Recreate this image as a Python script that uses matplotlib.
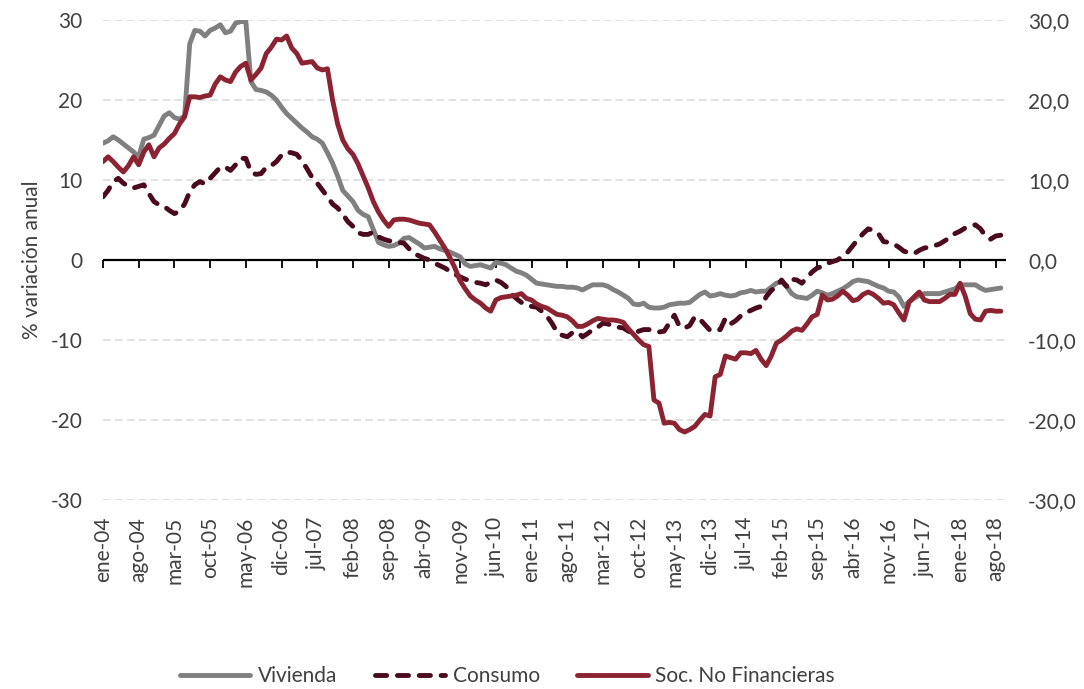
import matplotlib
matplotlib.use("Agg")
import matplotlib.pyplot as plt

plt.rcParams['font.family'] = ['Lato', 'DejaVu Sans']
plt.rcParams['axes.unicode_minus'] = False

## data: monthly, ene-04 .. sep-18
vivienda = [
    14.6, 14.9, 15.4, 15.0, 14.5, 14.0, 13.5, 12.9, 15.1, 15.3, 15.6, 16.8,
    18.0, 18.4, 17.8, 17.6, 18.0, 27.0, 28.7, 28.6, 28.0, 28.7, 29.0, 29.4,
    28.4, 28.6, 29.6, 29.8, 29.8, 22.3, 21.3, 21.2, 21.0, 20.6, 20.0, 19.1,
    18.3, 17.7, 17.1, 16.5, 16.0, 15.4, 15.1, 14.6, 13.4, 12.1, 10.5, 8.7,
    8.0, 7.3, 6.2, 5.7, 5.4, 3.8, 2.2, 1.9, 1.7, 1.8, 2.1, 2.7,
    2.8, 2.4, 2.0, 1.5, 1.6, 1.7, 1.4, 1.2, 1.0, 0.7, 0.4, -0.5,
    -0.8, -0.7, -0.6, -0.8, -1.0, -0.3, -0.4, -0.6, -1.0, -1.4, -1.6, -1.9,
    -2.4, -2.9, -3.0, -3.1, -3.2, -3.3, -3.3, -3.4, -3.4, -3.5, -3.75, -3.4,
    -3.1, -3.1, -3.1, -3.3, -3.7, -4.0, -4.4, -4.8, -5.5, -5.6, -5.4, -5.9,
    -6.0, -6.0, -5.9, -5.6, -5.5, -5.4, -5.4, -5.3, -4.8, -4.3, -4.0, -4.5,
    -4.4, -4.2, -4.4, -4.5, -4.4, -4.1, -4.0, -3.8, -4.0, -3.9, -3.9, -3.4,
    -2.9, -2.7, -3.3, -4.2, -4.6, -4.7, -4.8, -4.4, -3.9, -4.1, -4.4, -4.2,
    -3.9, -3.6, -3.2, -2.7, -2.5, -2.6, -2.7, -3.0, -3.3, -3.5, -3.9, -4.0,
    -4.6, -5.8, -5.2, -4.8, -4.4, -4.2, -4.2, -4.2, -4.2, -4.0, -3.8, -3.6,
    -3.1, -3.1, -3.1, -3.1, -3.5, -3.8, -3.7, -3.6, -3.5,
]
consumo = [
    7.9, 8.7, 9.8, 10.2, 9.6, 9.2, 9.0, 9.2, 9.4, 8.3, 7.3, 6.9,
    6.7, 6.2, 5.8, 6.1, 7.0, 8.5, 9.4, 9.8, 9.5, 10.2, 10.9, 11.6,
    11.6, 11.2, 11.9, 12.7, 12.7, 11.0, 10.7, 10.8, 11.6, 11.8, 12.3, 13.1,
    13.5, 13.4, 13.2, 12.4, 11.4, 10.3, 9.6, 8.75, 7.9, 7.0, 6.5, 5.7,
    4.8, 4.2, 3.4, 3.2, 3.2, 3.5, 2.9, 2.6, 2.4, 2.3, 2.2, 2.1,
    1.4, 0.8, 0.5, 0.2, 0.0, -0.4, -0.7, -1.0, -1.4, -1.8, -2.1, -2.4,
    -2.6, -2.8, -2.9, -3.1, -2.8, -2.5, -2.8, -3.3, -4.2, -4.8, -5.3, -5.5,
    -5.8, -5.9, -6.4, -7.0, -7.9, -9.0, -9.4, -9.6, -9.1, -9.0, -9.6, -9.2,
    -8.7, -8.4, -7.9, -8.0, -8.3, -8.4, -8.5, -8.9, -9.3, -8.9, -8.7, -8.7,
    -8.8, -9.0, -8.9, -7.9, -6.9, -8.3, -8.5, -8.2, -7.1, -7.4, -8.1, -8.8,
    -8.8, -8.7, -7.3, -8.0, -7.6, -7.0, -6.6, -6.3, -6.0, -5.8, -4.6, -3.8,
    -3.4, -2.5, -3.3, -2.4, -2.5, -2.9, -2.2, -1.5, -1.0, -0.8, -0.4, -0.2,
    0.0, 0.5, 1.0, 1.8, 2.6, 3.3, 3.9, 3.7, 3.3, 2.3, 2.2, 2.0,
    1.6, 1.1, 0.9, 0.8, 1.2, 1.5, 1.6, 1.8, 2.0, 2.4, 2.8, 3.3,
    3.6, 4.0, 4.2, 4.4, 3.9, 3.0, 2.6, 3.0, 3.1,
]
soc_no_fin = [
    12.3, 12.9, 12.3, 11.6, 11.0, 11.8, 12.9, 11.9, 13.5, 14.4, 12.9, 14.0,
    14.5, 15.2, 15.8, 17.0, 17.9, 20.4, 20.4, 20.3, 20.5, 20.6, 22.0, 22.9,
    22.5, 22.3, 23.5, 24.2, 24.6, 22.5, 23.2, 24.0, 25.8, 26.6, 27.6, 27.5,
    28.0, 26.5, 25.8, 24.6, 24.7, 24.8, 24.0, 23.75, 23.9, 20.0, 17.0, 15.0,
    13.9, 13.2, 12.0, 10.5, 9.0, 7.3, 6.0, 5.0, 4.2, 5.0, 5.1, 5.1,
    5.0, 4.8, 4.6, 4.5, 4.4, 3.5, 2.5, 1.5, 0.3, -1.0, -2.6, -3.6,
    -4.5, -5.0, -5.4, -6.0, -6.4, -5.0, -4.7, -4.6, -4.5, -4.4, -4.2, -4.8,
    -5.0, -5.5, -5.8, -6.0, -6.4, -6.8, -6.9, -7.1, -7.6, -8.3, -8.3, -8.0,
    -7.6, -7.3, -7.4, -7.5, -7.5, -7.6, -7.8, -8.6, -9.3, -10.0, -10.6, -10.8,
    -17.5, -17.9, -20.4, -20.3, -20.4, -21.2, -21.5, -21.2, -20.8, -20.0, -19.3, -19.5,
    -14.6, -14.3, -12.0, -12.2, -12.4, -11.6, -11.6, -11.7, -11.3, -12.4, -13.2, -12.0,
    -10.4, -10.0, -9.5, -8.9, -8.6, -8.8, -8.0, -7.1, -6.8, -4.4, -5.0, -4.9,
    -4.5, -3.9, -4.4, -5.1, -4.9, -4.3, -4.0, -4.3, -4.8, -5.4, -5.3, -5.6,
    -6.6, -7.5, -5.3, -4.6, -4.0, -5.0, -5.2, -5.2, -5.2, -4.8, -4.3, -4.3,
    -2.9, -4.5, -6.7, -7.4, -7.5, -6.4, -6.3, -6.4, -6.4,
]
tick_labels = ['ene-04', 'ago-04', 'mar-05', 'oct-05', 'may-06', 'dic-06',
               'jul-07', 'feb-08', 'sep-08', 'abr-09', 'nov-09', 'jun-10',
               'ene-11', 'ago-11', 'mar-12', 'oct-12', 'may-13', 'dic-13',
               'jul-14', 'feb-15', 'sep-15', 'abr-16', 'nov-16', 'jun-17',
               'ene-18', 'ago-18']
tick_step = 7  # months between labels

txt = '#404040'
fs = 15
lw = 3.5

fig = plt.figure(figsize=(10.84, 6.89), dpi=100)
ax = fig.add_axes([0.095, 0.2743, 0.833, 0.6967])

x = list(range(len(vivienda)))
ax.plot(x, vivienda, color='#808080', lw=lw, label='Vivienda',
        solid_joinstyle='round', solid_capstyle='round', zorder=3)
ax.plot(x, consumo, color='#4B0A1E', lw=lw, label='Consumo',
        ls=(0, (2.3, 2.2)), dash_capstyle='round', dash_joinstyle='round', zorder=4)
ax.plot(x, soc_no_fin, color='#8C2332', lw=lw, label='Soc. No Financieras',
        solid_joinstyle='round', solid_capstyle='round', zorder=5)

ax.set_xlim(0, 177)
ax.set_ylim(-30, 30)
ticks = [i * tick_step for i in range(len(tick_labels))]
ax.set_xticks(ticks)
ax.set_xticklabels(tick_labels, rotation=90, fontsize=fs, color=txt)
ax.tick_params(axis='x', length=0, pad=12)
ax.set_yticks(range(-30, 31, 10))
ax.tick_params(axis='y', length=0, pad=15, labelsize=fs, labelcolor=txt)
ax.yaxis.grid(True, color='#D9D9D9', lw=1.1, ls=(0, (5, 2.8)))
ax.set_axisbelow(True)
for s in ax.spines.values():
    s.set_visible(False)
ax.set_ylabel('% variación anual', fontsize=fs, color=txt, labelpad=6)

# zero axis line with tick marks
ax.axhline(0, color='black', lw=1.6, zorder=2)
sec = ax.secondary_xaxis(0.5)
sec.set_xticks(ticks)
sec.tick_params(direction='in', length=6, width=1.3, color='black',
                labeltop=False, labelbottom=False)
for s in sec.spines.values():
    s.set_visible(False)

ax2 = ax.twinx()
ax2.set_ylim(-30, 30)
ax2.set_yticks(range(-30, 31, 10))
ax2.set_yticklabels([f'{v:.1f}'.replace('.', ',') for v in range(-30, 31, 10)])
ax2.tick_params(axis='y', length=0, pad=16, labelsize=fs, labelcolor=txt)
for s in ax2.spines.values():
    s.set_visible(False)

h, l = ax.get_legend_handles_labels()
fig.legend(h, l, loc='center', bbox_to_anchor=(0.468, 0.019), ncol=3,
           frameon=False, fontsize=fs, handlelength=3.4, handletextpad=0.35,
           columnspacing=1.8, labelcolor=txt)

fig.savefig('out.png', dpi=100)
